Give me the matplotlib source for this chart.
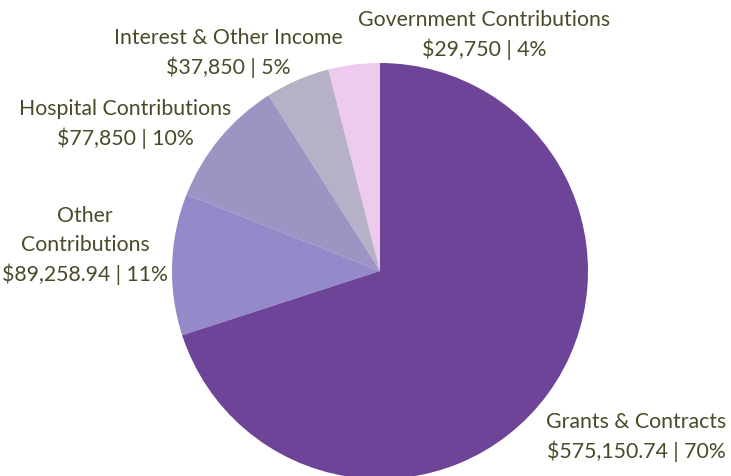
import matplotlib.pyplot as plt

plt.rcParams['font.family'] = ['Lato', 'DejaVu Sans']

# data, counter-clockwise from the top
names = ['Government Contributions', 'Interest & Other Income', 'Hospital Contributions',
         'Other\nContributions', 'Grants & Contracts']
amounts = ['$29,750', '$37,850', '$77,850', '$89,258.94', '$575,150.74']
pct = [4, 5, 10, 11, 70]

colors = ['#eecaee', '#b6b1c7', '#9e94c4', '#958ac9', '#6e4499']
txtcol = '#4b4a28'

W, H = 731, 477
fig = plt.figure(figsize=(W/100, H/100), dpi=100)
ax = fig.add_axes([0, 0, 1, 1])

ax.pie(pct, colors=colors, startangle=90, counterclock=True,
       center=(380, H-272), radius=208, wedgeprops=dict(linewidth=0))

# label anchors in pixel coords (x, y of first line)
label_pos = [(484, 20), (228, 38), (125, 109), (85, 216), (636, 422)]
for nm, amt, p, (x, y) in zip(names, amounts, pct, label_pos):
    lines = nm.split('\n') + ['%s | %d%%' % (amt, p)]
    for i, ln in enumerate(lines):
        ax.text(x, H - (y + i*29), ln, ha='center', va='center',
                fontsize=15.3, color=txtcol)

ax.set_xlim(0, W)
ax.set_ylim(0, H)
ax.set_aspect('equal')
ax.axis('off')

plt.savefig('out.png', dpi=100)
